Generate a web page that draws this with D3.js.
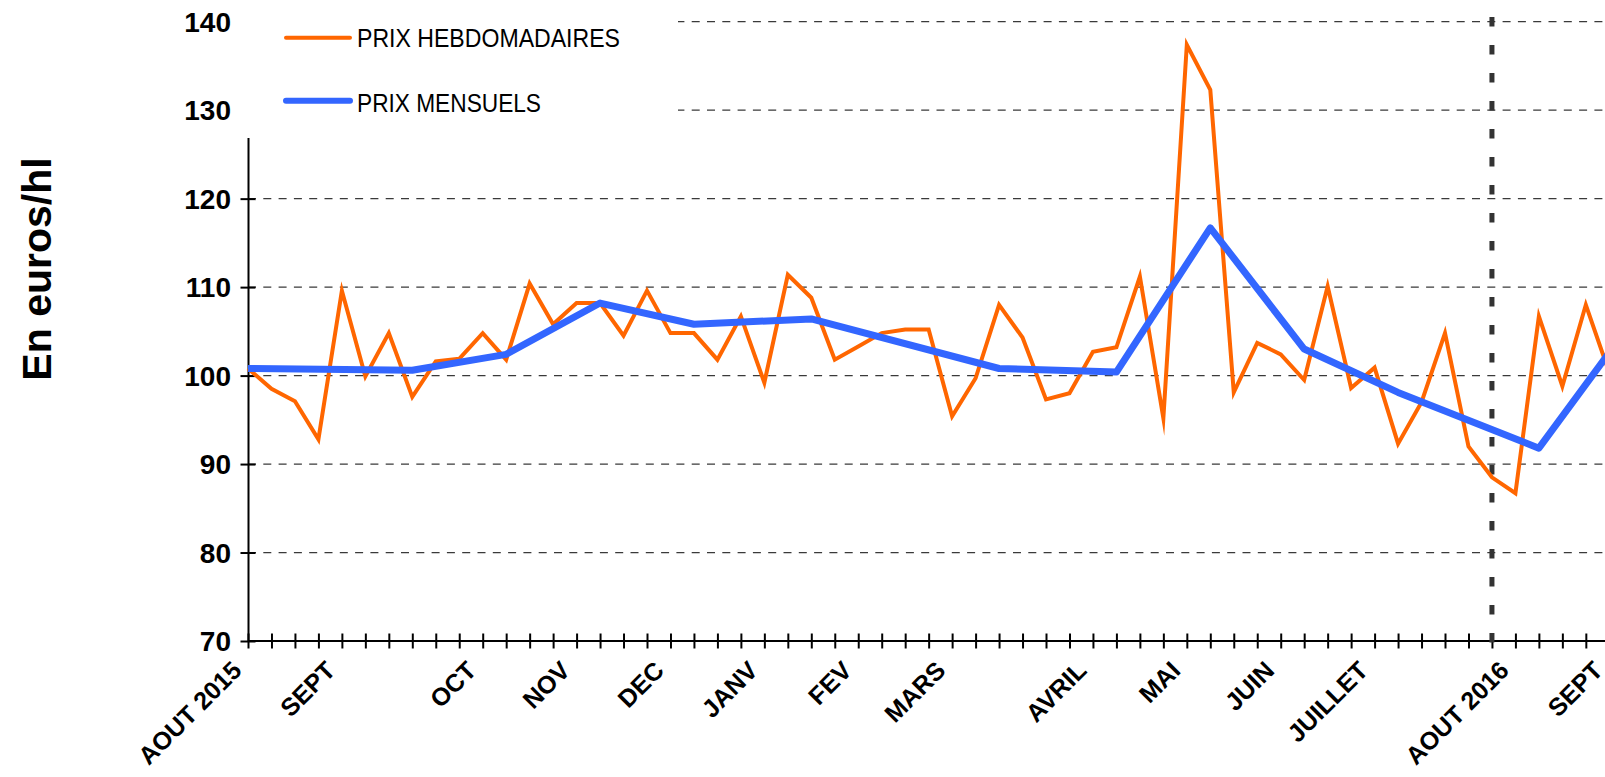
<!DOCTYPE html>
<html>
<head>
<meta charset="utf-8">
<script src="https://cdn.jsdelivr.net/npm/d3@7"></script>
<style>
  html, body { margin: 0; padding: 0; background: #fff; }
  svg { display: block; font-family: "Liberation Sans", Arial, sans-serif; }
</style>
</head>
<body>
<svg id="chart" width="1605" height="777"></svg>
<script>
// Weekly prices (euros/hl), one value per week starting August 2015
const weeklyPrices = [
  100.8, 98.5, 97.1, 92.8, 109.6, 99.9, 104.8, 97.6, 101.6, 101.9,
  104.8, 101.8, 110.4, 105.8, 108.2, 108.2, 104.5, 109.6, 104.8, 104.8,
  101.8, 106.7, 99.2, 111.4, 108.8, 101.8, 103.3, 104.8, 105.2, 105.2,
  95.4, 99.7, 108.0, 104.3, 97.3, 98.0, 102.7, 103.2, 111.2, 95.2,
  137.4, 132.3, 98.1, 103.7, 102.4, 99.5, 110.1, 98.6, 100.9, 92.3,
  97.0, 104.8, 92.0, 88.5, 86.7, 106.7, 98.8, 108.0, 100.3
];

// Monthly prices, placed on the week they refer to
const monthlyWeeks  = [0, 7, 11, 15, 19, 24, 32, 37, 41, 45, 49, 55, 59];
const monthlyPrices = [100.8, 100.6, 102.4, 108.2, 105.8, 106.4, 100.8, 100.4, 116.7, 103.0, 98.1, 91.8, 106.2];

// Month labels on the time axis and the week they sit on
const monthLabels = ["AOUT 2015", "SEPT", "OCT", "NOV", "DEC", "JANV", "FEV", "MARS",
                     "AVRIL", "MAI", "JUIN", "JUILLET", "AOUT 2016", "SEPT"];
const monthLabelWeeks = [0, 4, 10, 14, 18, 22, 26, 30, 36, 40, 44, 48, 54, 58];

const yTicks = [70, 80, 90, 100, 110, 120, 130, 140];
const markerWeek = 53;   // start of August 2016
const seriesNames = ["PRIX HEBDOMADAIRES", "PRIX MENSUELS"];
const yTitle = "En euros/hl";

const ORANGE = "#FF6600";
const BLUE = "#3366FF";

const svg = d3.select("#chart");

const x = d3.scaleLinear().domain([0, 58]).range([248, 1609.3]);
const y = d3.scaleLinear().domain([70, 140]).range([641, 21.7]);

// horizontal dashed gridlines
svg.append("g")
  .selectAll("line")
  .data(yTicks.filter(v => v > 70))
  .join("line")
  .attr("x1", x(0)).attr("x2", 1605)
  .attr("y1", d => y(d)).attr("y2", d => y(d))
  .attr("stroke", "#3a3a3a")
  .attr("stroke-width", 1.2)
  .attr("stroke-dasharray", "8,7.3");

// y axis with ticks crossing the axis line
const yAxis = svg.append("g")
  .attr("transform", `translate(${x(0)},0)`)
  .call(d3.axisLeft(y).tickValues(yTicks).tickFormat("").tickSizeOuter(0));
yAxis.select(".domain").attr("stroke", "#000").attr("stroke-width", 2);
yAxis.selectAll(".tick line").attr("x1", -7.5).attr("x2", 7.5)
  .attr("stroke", "#000").attr("stroke-width", 2);

// legend panel hides the top of the grid and axis
svg.append("rect")
  .attr("x", 236).attr("y", 0).attr("width", 442).attr("height", 138)
  .attr("fill", "#fff");

// x axis: one tick per week
const xAxis = svg.append("g")
  .attr("transform", `translate(0,${y(70)})`)
  .call(d3.axisBottom(x).tickValues(d3.range(0, 59)).tickFormat("").tickSizeOuter(0));
xAxis.select(".domain").attr("stroke", "#000").attr("stroke-width", 2)
  .attr("d", `M${x(0)},0H1605`);
xAxis.selectAll(".tick line").attr("y1", -7.5).attr("y2", 7.5)
  .attr("stroke", "#000").attr("stroke-width", 2);

// y tick labels
svg.append("g")
  .selectAll("text")
  .data(yTicks)
  .join("text")
  .attr("x", 231)
  .attr("y", d => y(d))
  .attr("dy", "0.36em")
  .attr("text-anchor", "end")
  .attr("font-size", 28)
  .attr("font-weight", "bold")
  .attr("fill", "#000")
  .text(d => d);

// month labels, rotated
svg.append("g")
  .selectAll("text")
  .data(monthLabels)
  .join("text")
  .attr("transform", (d, i) => `translate(${x(monthLabelWeeks[i]) - 5},${y(70) + 31}) rotate(-45)`)
  .attr("text-anchor", "end")
  .attr("font-size", 25)
  .attr("font-weight", "bold")
  .attr("fill", "#000")
  .text(d => d);

// y axis title
svg.append("text")
  .attr("transform", "translate(51,269) rotate(-90)")
  .attr("text-anchor", "middle")
  .attr("font-size", 41)
  .attr("font-weight", "bold")
  .attr("fill", "#000")
  .text(yTitle);

// vertical dotted marker for August 2016
svg.append("line")
  .attr("x1", x(markerWeek)).attr("x2", x(markerWeek))
  .attr("y1", 17).attr("y2", y(70) + 4)
  .attr("stroke", "#333")
  .attr("stroke-width", 5)
  .attr("stroke-dasharray", "9.5,18.5");

// weekly price line
const weeklyLine = d3.line()
  .x((d, i) => x(i))
  .y(d => y(d));
svg.append("path")
  .datum(weeklyPrices)
  .attr("d", weeklyLine)
  .attr("fill", "none")
  .attr("stroke", ORANGE)
  .attr("stroke-width", 4)
  .attr("stroke-linejoin", "miter")
  .attr("stroke-miterlimit", 10);

// monthly price line
const monthlyLine = d3.line()
  .x((d, i) => x(monthlyWeeks[i]))
  .y(d => y(d));
svg.append("path")
  .datum(monthlyPrices)
  .attr("d", monthlyLine)
  .attr("fill", "none")
  .attr("stroke", BLUE)
  .attr("stroke-width", 7)
  .attr("stroke-linejoin", "round");

// legend
const legend = svg.append("g");
const legendRows = [
  { name: seriesNames[0], color: ORANGE, width: 4, y: 37.7, baseline: 46.7, len: 263 },
  { name: seriesNames[1], color: BLUE, width: 6, y: 100.7, baseline: 111.5, len: 184 }
];
legendRows.forEach(r => {
  legend.append("line")
    .attr("x1", 286).attr("x2", 350)
    .attr("y1", r.y).attr("y2", r.y)
    .attr("stroke", r.color)
    .attr("stroke-width", r.width)
    .attr("stroke-linecap", "round");
  legend.append("text")
    .attr("x", 357)
    .attr("y", r.baseline)
    .attr("font-size", 25.5)
    .attr("fill", "#000")
    .attr("textLength", r.len)
    .attr("lengthAdjust", "spacingAndGlyphs")
    .text(r.name);
});
</script>
</body>
</html>
